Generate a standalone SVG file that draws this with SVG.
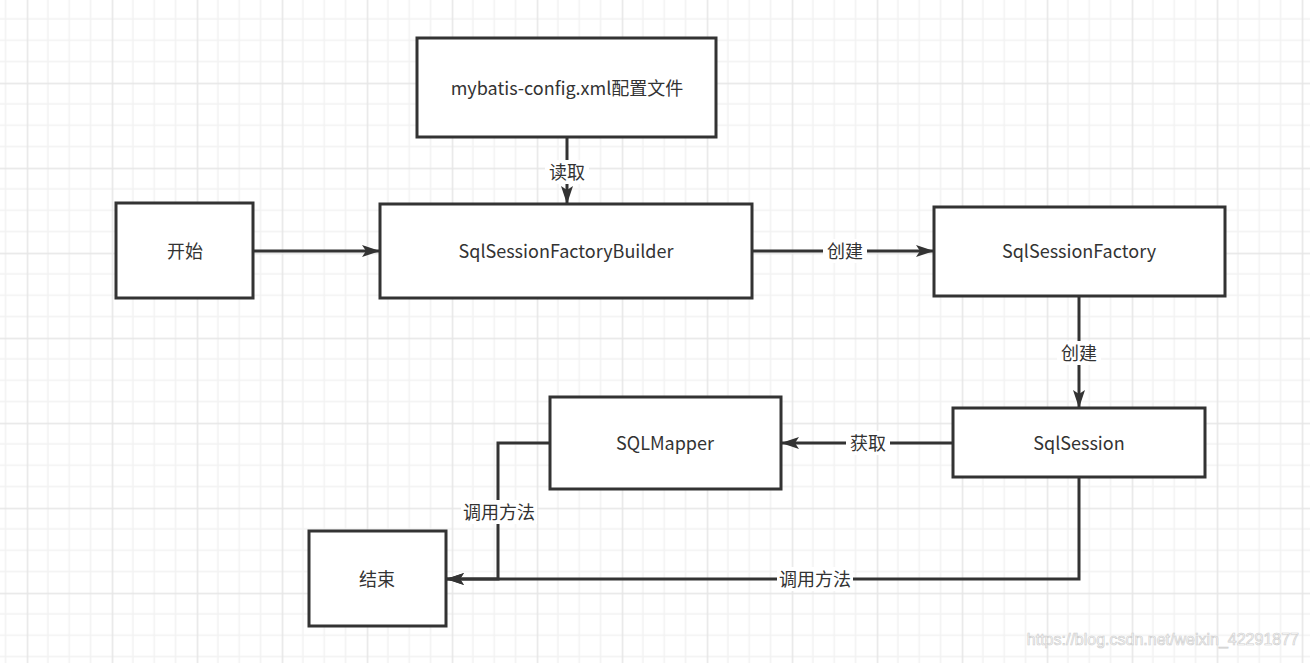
<svg xmlns="http://www.w3.org/2000/svg" width="1310" height="663" viewBox="0 0 1310 663">
<style>
.box{fill:#fff;stroke:#333;stroke-width:3}
.t{font-family:"Noto Sans CJK SC","Liberation Sans",sans-serif;font-size:18px;fill:#333;text-anchor:middle;dominant-baseline:central}
.e{fill:none;stroke:#333;stroke-width:3}
.lbg{fill:#fff}
</style>
<defs>
<pattern id="grid" patternUnits="userSpaceOnUse" x="26.7" y="82.7" width="85" height="85">
<path d="M21.25 0V85M42.5 0V85M63.75 0V85M0 21.25H85M0 42.5H85M0 63.75H85" stroke="#f2f2f2" stroke-width="1.5" fill="none"/>
<path d="M0.75 0V85M0 0.75H85" stroke="#e6e6e6" stroke-width="1.5" fill="none"/>
</pattern>
<marker id="arr" viewBox="0 0 18 12" refX="17" refY="6" markerWidth="18" markerHeight="12" markerUnits="userSpaceOnUse" orient="auto">
<path d="M0 0L18 6L0 12L4 6Z" fill="#333"/>
</marker>
</defs>
<rect width="1310" height="663" fill="#fff"/>
<rect width="1310" height="663" fill="url(#grid)"/>
<g id="connectors">
<path class="e" d="M567 137V203" marker-end="url(#arr)"/>
<path class="e" d="M253 251H379" marker-end="url(#arr)"/>
<path class="e" d="M752 251H933" marker-end="url(#arr)"/>
<path class="e" d="M1079 296V407" marker-end="url(#arr)"/>
<path class="e" d="M953 443H782" marker-end="url(#arr)"/>
<path class="e" d="M550 443H498V579H447" marker-end="url(#arr)"/>
<path class="e" d="M1079 477V579H447" marker-end="url(#arr)"/>
<rect class="lbg" x="545" y="160" width="44" height="24"/>
<text class="t" x="567" y="171">读取</text>
<rect class="lbg" x="823" y="239" width="44" height="24"/>
<text class="t" x="845" y="250">创建</text>
<rect class="lbg" x="1057" y="341" width="44" height="24"/>
<text class="t" x="1079" y="352">创建</text>
<rect class="lbg" x="846" y="431" width="44" height="24"/>
<text class="t" x="868" y="442">获取</text>
<rect class="lbg" x="461" y="500" width="76" height="24"/>
<text class="t" x="499" y="511">调用方法</text>
<rect class="lbg" x="777" y="567" width="76" height="24"/>
<text class="t" x="815" y="578">调用方法</text>
</g>
<g id="config"><rect class="box" x="417" y="38" width="299" height="99"/><text class="t" x="567" y="87">mybatis-config.xml配置文件</text></g>
<g id="start"><rect class="box" x="116" y="203" width="137" height="95"/><text class="t" x="185" y="250">开始</text></g>
<g id="builder"><rect class="box" x="380" y="204" width="372" height="94"/><text class="t" x="566" y="250">SqlSessionFactoryBuilder</text></g>
<g id="factory"><rect class="box" x="934" y="207" width="291" height="89"/><text class="t" x="1079" y="250">SqlSessionFactory</text></g>
<g id="mapper"><rect class="box" x="550" y="397" width="231" height="92"/><text class="t" x="665" y="442">SQLMapper</text></g>
<g id="session"><rect class="box" x="953" y="408" width="252" height="69"/><text class="t" x="1079" y="442">SqlSession</text></g>
<g id="end"><rect class="box" x="309" y="531" width="137" height="95"/><text class="t" x="377" y="578">结束</text></g>
<text x="1299" y="645" font-family="Liberation Sans,sans-serif" font-size="16" text-anchor="end" fill="#fff" stroke="#cfcfcf" stroke-width="0.7">https://blog.csdn.net/weixin_42291877</text>
</svg>
